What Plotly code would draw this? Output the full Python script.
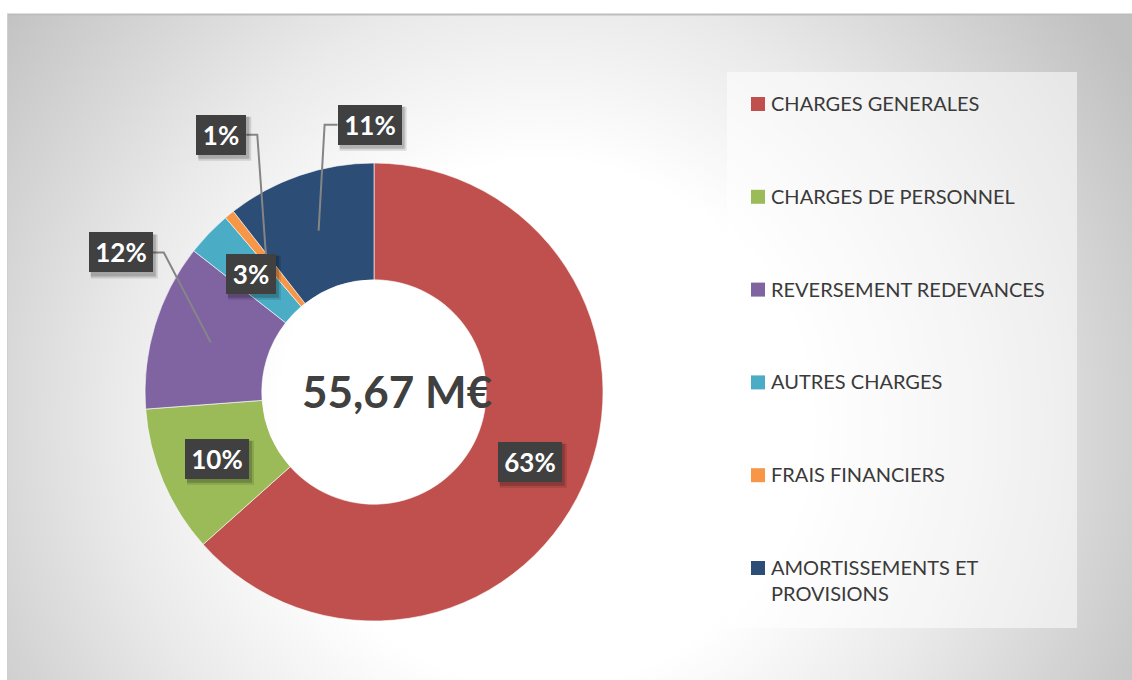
import base64
import math
import plotly.graph_objects as go

# ---- data -------------------------------------------------------------
categories = [
    "CHARGES GENERALES",
    "CHARGES DE PERSONNEL",
    "REVERSEMENT REDEVANCES",
    "AUTRES CHARGES",
    "FRAIS FINANCIERS",
    "AMORTISSEMENTS ET PROVISIONS",
]
legend_labels = [
    "CHARGES GENERALES",
    "CHARGES DE PERSONNEL",
    "REVERSEMENT REDEVANCES",
    "AUTRES CHARGES",
    "FRAIS FINANCIERS",
    "AMORTISSEMENTS ET<br>PROVISIONS",
]
values_meur = [35.30, 5.79, 6.55, 1.78, 0.39, 5.86]   # millions of euros
total_label = "55,67 M€"
colors = ["#C0504D", "#9BBB59", "#8064A2", "#4BACC6", "#F79646", "#2C4D75"]

# ---- canvas geometry (pixels) ----------------------------------------
W, H = 1132, 680
FONT = "Lato"
CX, CY, R_OUT = 374, 392, 229
HOLE = 0.49
R_MID = R_OUT * (1 + HOLE) / 2

# label box offsets from the slice anchor (None = box sits on the ring)
label_offsets = [None, None, (-90, -90), None, (-45, -125), (51, -106)]


def px(x):
    return x / W


def py(y):
    return 1 - y / H


# ---- background: radial gradient panel -------------------------------
svg = f"""<svg xmlns='http://www.w3.org/2000/svg' width='1125' height='666'>
<defs><radialGradient id='g' gradientUnits='userSpaceOnUse' cx='535' cy='410' r='690'>
<stop offset='0' stop-color='rgb(255,255,255)'/>
<stop offset='0.38' stop-color='rgb(255,255,255)'/>
<stop offset='0.62' stop-color='rgb(234,234,234)'/>
<stop offset='1' stop-color='rgb(192,192,192)'/>
</radialGradient></defs>
<rect width='1125' height='666' fill='url(#g)'/></svg>"""
bg_src = "data:image/svg+xml;base64," + base64.b64encode(svg.encode()).decode()

fig = go.Figure()

fig.add_trace(go.Pie(
    labels=categories,
    values=values_meur,
    sort=False,
    direction="clockwise",
    rotation=0,
    hole=HOLE,
    marker=dict(colors=colors, line=dict(color="rgba(255,255,255,0.6)", width=1)),
    textinfo="none",
    hoverinfo="label+percent",
    showlegend=False,
    domain=dict(x=[px(CX - R_OUT), px(CX + R_OUT)], y=[py(CY + R_OUT), py(CY - R_OUT)]),
))

shapes = []
annotations = []

# panel borders
shapes.append(dict(type="line", xref="paper", yref="paper", x0=px(7), x1=1, y0=py(14.5), y1=py(14.5),
                   line=dict(color="#BDBDBD", width=2)))
shapes.append(dict(type="line", xref="paper", yref="paper", x0=px(7.5), x1=px(7.5), y0=py(14), y1=0,
                   line=dict(color="#CFCFCF", width=1)))

# ---- percentage labels with leader lines -----------------------------
total = sum(values_meur)
cum = 0.0
for i, v in enumerate(values_meur):
    frac = v / total
    mid = (cum + frac / 2) * 2 * math.pi
    cum += frac
    ax = CX + R_MID * math.sin(mid)
    ay = CY - R_MID * math.cos(mid)
    text = f"{round(frac * 100):d}%"
    bw = 64 if len(text) >= 3 else 50
    bh = 40
    off = label_offsets[i]
    if off is None:
        bx, by = ax, ay
    else:
        bx, by = ax + off[0], ay + off[1]
        # leader: from box side, short horizontal elbow, then to the slice
        if off[0] < 0:
            ex = bx + bw / 2
            elbow = ex + 11
        else:
            ex = bx - bw / 2
            elbow = ex - 13
        path = f"M {px(ex)},{py(by)} L {px(elbow)},{py(by)} L {px(ax)},{py(ay)}"
        shapes.append(dict(type="path", xref="paper", yref="paper", path=path,
                           line=dict(color="#858585", width=2)))
    # soft drop shadow
    shapes.append(dict(type="rect", xref="paper", yref="paper",
                       x0=px(bx - bw / 2 + 2), x1=px(bx + bw / 2 + 5),
                       y0=py(by + bh / 2 + 6), y1=py(by - bh / 2 + 2),
                       fillcolor="rgba(0,0,0,0.12)", line=dict(width=0)))
    shapes.append(dict(type="rect", xref="paper", yref="paper",
                       x0=px(bx - bw / 2 + 2), x1=px(bx + bw / 2 + 3),
                       y0=py(by + bh / 2 + 4), y1=py(by - bh / 2 + 2),
                       fillcolor="rgba(0,0,0,0.18)", line=dict(width=0)))
    annotations.append(dict(
        x=px(bx), y=py(by), xref="paper", yref="paper", text=f"<b>{text}</b>",
        showarrow=False, xanchor="center", yanchor="middle",
        width=bw, height=bh, bgcolor="#404040", borderpad=0, borderwidth=0,
        font=dict(family=FONT, size=26, color="white"),
    ))

# ---- centre total ----------------------------------------------------
annotations.append(dict(
    x=px(397), y=py(391), xref="paper", yref="paper", text=f"<b>{total_label}</b>",
    showarrow=False, xanchor="center", yanchor="middle",
    font=dict(family=FONT, size=44, color="#404040"),
))

# ---- legend panel ----------------------------------------------------
shapes.append(dict(type="rect", xref="paper", yref="paper", x0=px(727), x1=px(1077),
                   y0=py(628), y1=py(72), fillcolor="rgba(255,255,255,0.55)", line=dict(width=0),
                   layer="below"))
LEG_Y0, LEG_STEP = 104, 92.8
for i, (lab, col) in enumerate(zip(legend_labels, colors)):
    yc = LEG_Y0 + i * LEG_STEP
    shapes.append(dict(type="rect", xref="paper", yref="paper", x0=px(751), x1=px(765),
                       y0=py(yc + 7), y1=py(yc - 7), fillcolor=col, line=dict(width=0)))
    annotations.append(dict(
        x=px(769), y=py(yc - 15), xref="paper", yref="paper", text=lab,
        showarrow=False, xanchor="left", yanchor="top", align="left",
        font=dict(family=FONT, size=20, color="#3A3A3A"),
    ))

fig.update_layout(
    width=W, height=H,
    margin=dict(l=0, r=0, t=0, b=0),
    paper_bgcolor="white",
    plot_bgcolor="white",
    showlegend=False,
    shapes=shapes,
    annotations=annotations,
    images=[dict(source=bg_src, xref="paper", yref="paper", x=px(7), y=py(14),
                 sizex=1 - px(7), sizey=py(14), sizing="stretch", layer="below",
                 xanchor="left", yanchor="top")],
)

fig.write_html("out.html")
